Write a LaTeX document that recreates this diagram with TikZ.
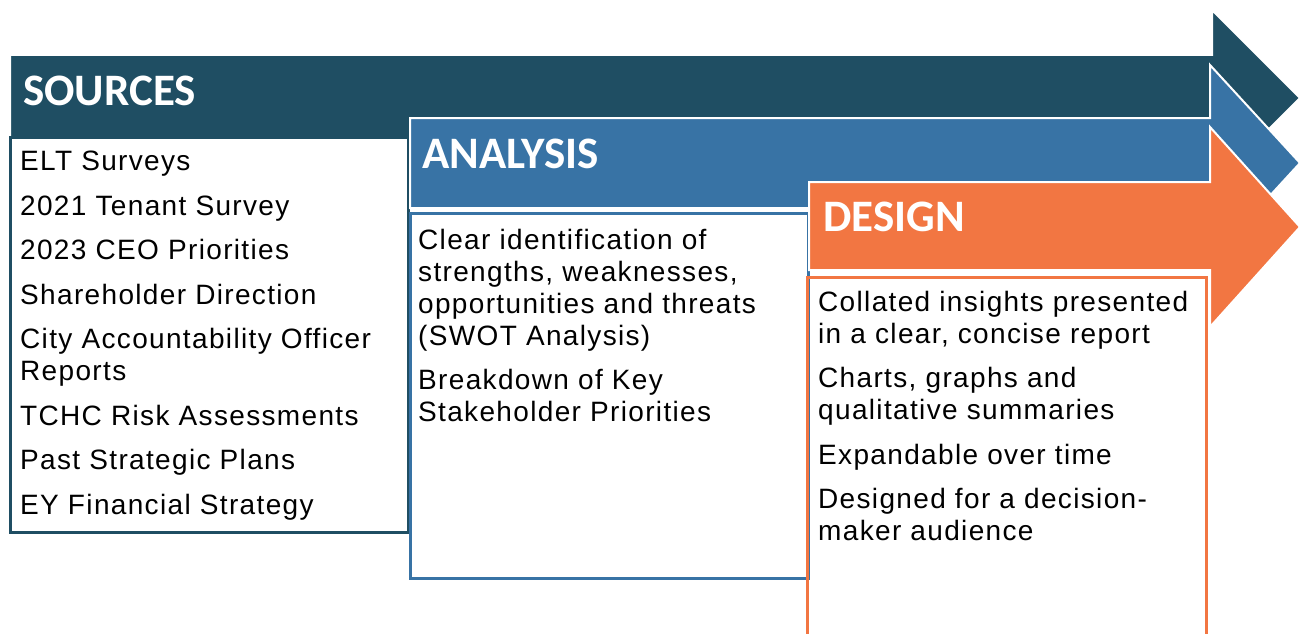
\documentclass[tikz,border=0pt]{standalone}
\usepackage{fontspec}
\setmainfont{Liberation Sans}[LetterSpace=4.8]
\newfontfamily\headfont{Carlito}
\usetikzlibrary{positioning}
\definecolor{srcteal}{HTML}{1F4E63}
\definecolor{anablue}{HTML}{3873A5}
\definecolor{desorange}{HTML}{F27642}
\tikzset{
    band/.style={draw=white, line width=2pt, line join=miter},
    header/.style={anchor=base west, inner sep=0pt, text=white, font=\headfont\bfseries\fontsize{45}{54}\selectfont},
    items/.style={anchor=north west, inner sep=0pt, align=left, font=\fontsize{28}{32}\selectfont},
    frame/.style={line width=3pt}
}

\begin{document}
\begin{tikzpicture}[x=1pt,y=-1pt]
\useasboundingbox (0,0) rectangle (1302,634);

% Sources
\path[band, fill=srcteal] (10,55) -- (1212,55) -- (1212,10) -- (1300,98) -- (1212,186) -- (1212,137) -- (10,137) -- cycle;
\draw[frame, srcteal] (10,137) rectangle (408,532);
\node[header] (srchead) at (23,106) {SOURCES};
\node[items] (srclist) at (20,151) {ELT Surveys\\[12.5pt]
  2021 Tenant Survey\\[12.5pt]
  2023 CEO Priorities\\[12.5pt]
  Shareholder Direction\\[12.5pt]
  City Accountability Officer\\ Reports\\[12.5pt]
  TCHC Risk Assessments\\[12.5pt]
  Past Strategic Plans\\[12.5pt]
  EY Financial Strategy};

% Analysis
\path[band, fill=anablue] (410,118) -- (1210,118) -- (1210,65) -- (1300,163) -- (1210,261) -- (1210,208) -- (410,208) -- cycle;
\draw[frame, anablue] (410,213) rectangle (808,578);
\node[header] (anahead) at (422,168) {ANALYSIS};
\node[items] (analist) at (418,229) {Clear identification of\\
  strengths, weaknesses,\\
  opportunities and threats\\
  (SWOT Analysis)\\[12.5pt]
  Breakdown of Key\\
  Stakeholder Priorities};

% Design
\path[band, fill=desorange] (809,182) -- (1210,182) -- (1210,127) -- (1300,227) -- (1210,327) -- (1210,270) -- (809,270) -- cycle;
\draw[frame, desorange] (807,636) -- (807,277) -- (1206,277) -- (1206,636);
\node[header] (deshead) at (823,231) {DESIGN};
\node[items] (deslist) at (818,291) {Collated insights presented\\
  in a clear, concise report\\[12.5pt]
  Charts, graphs and\\
  qualitative summaries\\[12.5pt]
  Expandable over time\\[12.5pt]
  Designed for a decision-\\
  maker audience};

\end{tikzpicture}
\end{document}
